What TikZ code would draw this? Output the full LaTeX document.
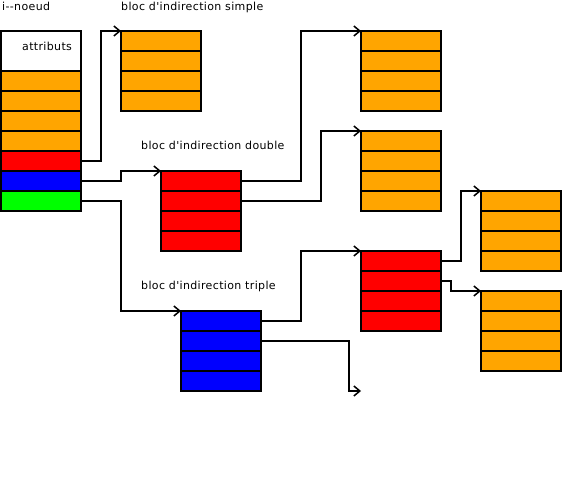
\documentclass[tikz,border=0pt]{standalone}
\usepackage{fontspec}
\newfontfamily\lblfont[LetterSpace=3.2]{DejaVu Sans}
\usetikzlibrary{arrows.meta}
\definecolor{corange}{HTML}{FFA500}
\definecolor{cred}{HTML}{FF0000}
\definecolor{cblue}{HTML}{0000FF}
\definecolor{cgreen}{HTML}{00FF00}
\begin{document}
\begin{tikzpicture}[x=1pt,y=-1pt,
  cell/.style={draw=black,line width=1.6pt,minimum width=80pt,minimum height=20pt,inner sep=0pt,outer sep=0pt},
  orangerow/.style={cell,fill=corange},
  redrow/.style={cell,fill=cred},
  bluerow/.style={cell,fill=cblue},
  greenrow/.style={cell,fill=cgreen},
  lbl/.style={font=\lblfont\fontsize{11}{13}\selectfont,anchor=base west,inner sep=0pt},
  link/.style={draw=black,line width=1.6pt,-{Straight Barb[length=6pt,width=10pt,line width=1.5pt]}}]
\useasboundingbox (0,0) rectangle (563,484);
% i-noeud
\node[cell,fill=white,minimum height=40pt] (attr) at (41,51) {};
\node[orangerow] (in1) at (41,81) {};
\node[orangerow] (in2) at (41,101) {};
\node[orangerow] (in3) at (41,121) {};
\node[orangerow] (in4) at (41,141) {};
\node[redrow] (in5) at (41,161) {};
\node[bluerow] (in6) at (41,181) {};
\node[greenrow] (in7) at (41,201) {};
% simple block
\node[orangerow] (s1) at (161,41) {};
\node[orangerow] (s2) at (161,61) {};
\node[orangerow] (s3) at (161,81) {};
\node[orangerow] (s4) at (161,101) {};
% double block
\node[redrow] (d1) at (201,181) {};
\node[redrow] (d2) at (201,201) {};
\node[redrow] (d3) at (201,221) {};
\node[redrow] (d4) at (201,241) {};
% triple block
\node[bluerow] (t1) at (221,321) {};
\node[bluerow] (t2) at (221,341) {};
\node[bluerow] (t3) at (221,361) {};
\node[bluerow] (t4) at (221,381) {};
% orange A
\node[orangerow] (a1) at (401,41) {};
\node[orangerow] (a2) at (401,61) {};
\node[orangerow] (a3) at (401,81) {};
\node[orangerow] (a4) at (401,101) {};
% orange B
\node[orangerow] (b1) at (401,141) {};
\node[orangerow] (b2) at (401,161) {};
\node[orangerow] (b3) at (401,181) {};
\node[orangerow] (b4) at (401,201) {};
% red second level
\node[redrow] (r1) at (401,261) {};
\node[redrow] (r2) at (401,281) {};
\node[redrow] (r3) at (401,301) {};
\node[redrow] (r4) at (401,321) {};
% orange C
\node[orangerow] (c1) at (521,201) {};
\node[orangerow] (c2) at (521,221) {};
\node[orangerow] (c3) at (521,241) {};
\node[orangerow] (c4) at (521,261) {};
% orange D
\node[orangerow] (e1) at (521,301) {};
\node[orangerow] (e2) at (521,321) {};
\node[orangerow] (e3) at (521,341) {};
\node[orangerow] (e4) at (521,361) {};
\coordinate (free) at (361,391);
% labels
\node[lbl] (lnoeud) at (2,11) {i{-}{-}noeud};
\node[lbl] (lattr) at (22,51) {attributs};
\node[lbl] (lsimple) at (121,11) {bloc d'indirection simple};
\node[lbl] (ldouble) at (141,150) {bloc d'indirection double};
\node[lbl] (ltriple) at (141,290) {bloc d'indirection triple};
% connectors
\draw[link] (in5.east) -- ++(20,0) |- (s1.north west);
\draw[link] (in6.east) -- ++(40,0) |- (d1.north west);
\draw[link] (in7.east) -- ++(40,0) |- (t1.north west);
\draw[link] (d1.east) -- ++(60,0) |- (a1.north west);
\draw[link] (d2.east) -- ++(80,0) |- (b1.north west);
\draw[link] (t1.east) -- ++(40,0) |- (r1.north west);
\draw[link] (t2.east) -- ++(88,0) |- (free);
\draw[link] (r1.east) -- ++(20,0) |- (c1.north west);
\draw[link] (r2.east) -- ++(10,0) |- (e1.north west);
\end{tikzpicture}
\end{document}
